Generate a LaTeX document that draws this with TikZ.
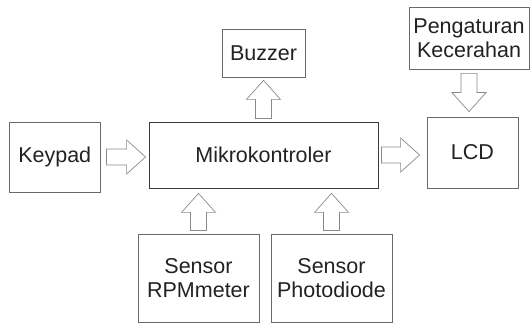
\documentclass[tikz,border=0pt]{standalone}
\usepackage{fontspec}
\setmainfont{Liberation Sans}
\usetikzlibrary{calc}
\definecolor{boxline}{HTML}{6A6A6A}
\definecolor{mculine}{HTML}{3A3A3A}
\definecolor{arrline}{HTML}{8A8A8A}
\definecolor{txt}{HTML}{222222}
\tikzset{
  block/.style={draw=boxline, line width=0.8pt, fill=white, text=txt,
    inner sep=0pt, align=center,
    font=\fontsize{21.5}{24.5}\selectfont},
  barrow/.style={draw=arrline, line width=0.7pt, fill=white, line join=miter},
}
% hollow block arrow from #1 towards #2, trimmed by #3 at the start and #4 at the tip
\newcommand\blockarrow[4]{%
  \coordinate (bA) at ($(#1)!#3!(#2)$);
  \coordinate (bB) at ($(#2)!#4!(#1)$);
  \coordinate (bH) at ($(bB)!19pt!(bA)$);
  \draw[barrow] ($(bA)!8pt!90:(bB)$) -- ($(bH)!8pt!90:(bB)$)
    -- ($(bH)!17pt!90:(bB)$) -- (bB) -- ($(bH)!17pt!-90:(bB)$)
    -- ($(bH)!8pt!-90:(bB)$) -- ($(bA)!8pt!-90:(bB)$) -- cycle;
}
\begin{document}
\begin{tikzpicture}[x=1pt,y=1pt]
\useasboundingbox (0,0) rectangle (531,323);

\node[block, minimum width=90.5pt, minimum height=70pt] (keypad) at (54.75,166) {Keypad};
\node[block, draw=mculine, minimum width=229pt, minimum height=66pt] (mcu) at (263.5,168) {Mikrokontroler};
\node[block, minimum width=83pt, minimum height=48pt] (buzzer) at (263.5,270) {Buzzer};
\node[block, minimum width=120pt, minimum height=62pt] (bright) at (469,285) {Pengaturan\\Kecerahan};
\node[block, minimum width=91pt, minimum height=71pt] (lcd) at (472.5,170.5) {LCD};
\node[block, minimum width=121pt, minimum height=88pt] (rpm) at (198.5,45) {Sensor\\RPMmeter};
\node[block, minimum width=121pt, minimum height=88pt] (photo) at (331.5,45) {Sensor\\Photodiode};

\coordinate (kin) at (keypad.east -| mcu.west);
\coordinate (lin) at (mcu.east -| lcd.west);
\coordinate (bout) at (buzzer.south |- mcu.north);
\coordinate (lcdtop) at (bright.south |- lcd.north);
\coordinate (rin) at (rpm.north |- mcu.south);
\coordinate (pin) at (photo.north |- mcu.south);

\blockarrow{keypad.east}{kin}{6pt}{3pt}
\blockarrow{mcu.east}{lin}{3pt}{7pt}
\blockarrow{bout}{buzzer.south}{3pt}{3pt}
\blockarrow{bright.south}{lcdtop}{4pt}{5pt}
\blockarrow{rpm.north}{rin}{3pt}{5pt}
\blockarrow{photo.north}{pin}{3pt}{5pt}
\end{tikzpicture}
\end{document}
